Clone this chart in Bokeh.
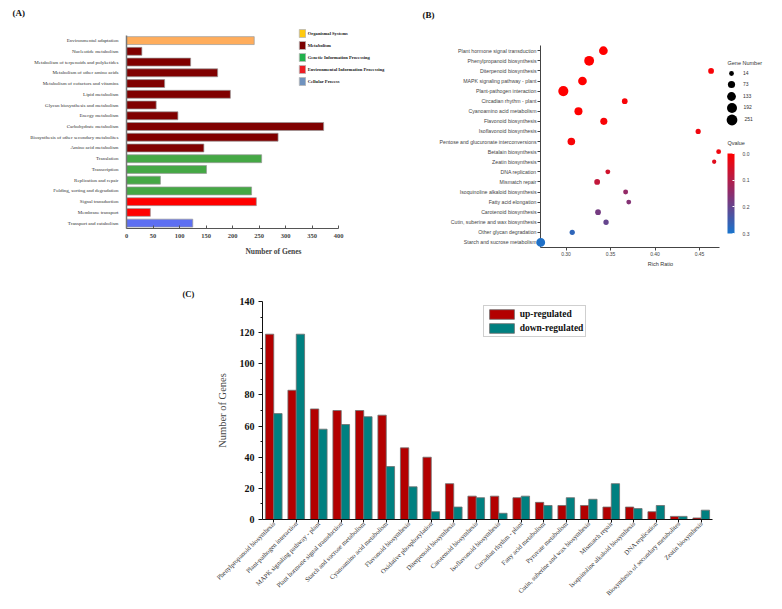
import math
from bokeh.plotting import figure
from bokeh.models import (FactorRange, Range1d, Legend, LegendItem, Label, ColorBar, Title,
                          LinearColorMapper, FixedTicker, CustomJSTickFormatter,
                          PrintfTickFormatter, ColumnDataSource)
from bokeh.transform import dodge, transform
from bokeh.layouts import column, row
from bokeh.embed import file_html
from bokeh.resources import INLINE

SERIF = "Liberation Serif"
SANS = "Liberation Sans"

# ---------------- Panel A data ----------------
a_categories = [
    "Environmental adaptation", "Nucleotide metabolism",
    "Metabolism of terpenoids and polyketides", "Metabolism of other amino acids",
    "Metabolism of cofactors and vitamins", "Lipid metabolism",
    "Glycan biosynthesis and metabolism", "Energy metabolism",
    "Carbohydrate metabolism", "Biosynthesis of other secondary metabolites",
    "Amino acid metabolism", "Translation", "Transcription",
    "Replication and repair", "Folding, sorting and degradation",
    "Signal transduction", "Membrane transport", "Transport and catabolism",
]
a_values = [241, 29, 121, 172, 72, 196, 56, 97, 372, 286, 146, 255, 151, 64, 236, 245, 45, 125]
a_classes = (["Organismal Systems"] + ["Metabolism"] * 10 +
             ["Genetic Information Processing"] * 4 +
             ["Environmental Information Processing"] * 2 + ["Cellular Process"])
a_legend_labels = ["Organismal Systems", "Metabolism", "Genetic Information Processing",
                   "Environmental Information Processing", "Cellular Process"]
a_ticks = [0, 50, 100, 150, 200, 250, 300, 350, 400]

# ---------------- Panel B data ----------------
b_pathways = [
    "Plant hormone signal transduction", "Phenylpropanoid biosynthesis",
    "Diterpenoid biosynthesis", "MAPK signaling pathway - plant",
    "Plant-pathogen interaction", "Circadian rhythm - plant",
    "Cyanoamino acid metabolism", "Flavonoid biosynthesis",
    "Isoflavonoid biosynthesis", "Pentose and glucuronate interconversions",
    "Betalain biosynthesis", "Zeatin biosynthesis", "DNA replication",
    "Mismatch repair", "Isoquinoline alkaloid biosynthesis", "Fatty acid elongation",
    "Carotenoid biosynthesis", "Cutin, suberine and wax biosynthesis",
    "Other glycan degradation", "Starch and sucrose metabolism",
]
b_rich_ratio = [0.342, 0.326, 0.463, 0.3185, 0.297, 0.366, 0.314, 0.3425, 0.4485, 0.306,
                0.4715, 0.4665, 0.347, 0.335, 0.367, 0.3705, 0.336, 0.345, 0.307, 0.2716]
b_gene_number = [131, 187, 31, 129, 202, 29, 101, 67, 19, 85, 14, 7, 14, 31, 15, 14, 29, 22, 20, 136]
b_qvalue = [0.0, 0.0, 0.01, 0.0, 0.0, 0.01, 0.0, 0.01, 0.02, 0.01, 0.02, 0.04, 0.06, 0.08,
            0.14, 0.16, 0.18, 0.20, 0.27, 0.29]
b_size_legend = [14, 73, 133, 192, 251]
b_ticks = [0.30, 0.35, 0.40, 0.45]
b_q_ticks = [0.0, 0.1, 0.2, 0.3]

# ---------------- Panel C data ----------------
c_pathways = [
    "Phenylpropanoid biosynthesis", "Plant-pathogen interaction",
    "MAPK signaling pathway - plant", "Plant hormone signal transduction",
    "Starch and sucrose metabolism", "Cyanoamino acid metabolism",
    "Flavonoid biosynthesis", "Oxidative phosphorylation", "Diterpenoid biosynthesis",
    "Carotenoid biosynthesis", "Isoflavonoid biosynthesis", "Circadian rhythm - plant",
    "Fatty acid metabolism", "Pyruvate metabolism", "Cutin, suberine and wax biosynthesis",
    "Mismatch repair", "Isoquinoline alkaloid biosynthesis", "DNA replication",
    "Biosynthesis of secondary metabolites", "Zeatin biosynthesis",
]
c_up = [119, 83, 71, 70, 70, 67, 46, 40, 23, 15, 15, 14, 11, 9, 9, 8, 8, 5, 2, 1]
c_down = [68, 119, 58, 61, 66, 34, 21, 5, 8, 14, 4, 15, 9, 14, 13, 23, 7, 9, 2, 6]
c_ticks = [0, 20, 40, 60, 80, 100, 120, 140]

# ---------------- styles ----------------
a_bar_colors = {
    "Organismal Systems": "#FFAD5C",
    "Metabolism": "#800000",
    "Genetic Information Processing": "#45A845",
    "Environmental Information Processing": "#FF0000",
    "Cellular Process": "#5D6FF2",
}
a_legend_colors = {
    "Organismal Systems": "#FFC90E",
    "Metabolism": "#7A0000",
    "Genetic Information Processing": "#22B14C",
    "Environmental Information Processing": "#ED1C24",
    "Cellular Process": "#7092BE",
}


def make_palette(stops, n=256):
    out = []
    for i in range(n):
        t = i / (n - 1)
        seg = min(int(t * (len(stops) - 1)), len(stops) - 2)
        f = t * (len(stops) - 1) - seg
        c0, c1 = stops[seg], stops[seg + 1]
        rgb = [round(c0[k] + (c1[k] - c0[k]) * f) for k in range(3)]
        out.append("#%02x%02x%02x" % tuple(rgb))
    return out


red_to_blue = make_palette([(255, 0, 0), (140, 45, 110), (24, 116, 205)])


def style_common(p):
    p.xgrid.visible = False
    p.ygrid.visible = False
    p.outline_line_color = None
    p.background_fill_color = "white"
    p.border_fill_color = "white"
    try:
        p.frame_align = False
    except Exception:
        pass


def panel_title(text, offset, standoff, size):
    return Title(text=text, align="left", offset=offset, standoff=standoff,
                 vertical_align="top", text_font=SERIF, text_font_style="bold",
                 text_font_size=size, text_color="#111111")


# ================= Panel A =================
# canvas x 0..420; frame: x 126..420 (axis 0..400 covers 126..338), y 24..228
A_axis_px = 212.0
A_frame_px = 294.0
pA = figure(width=420, height=270, title=None,
            y_range=FactorRange(factors=a_categories[::-1] + [" "]),
            x_range=Range1d(0, a_ticks[-1] * A_frame_px / A_axis_px),
            output_backend="svg", toolbar_location=None,
            min_border_left=126, min_border_right=0, min_border_top=24, min_border_bottom=42)
style_common(pA)
srcA = ColumnDataSource(dict(cat=a_categories, val=a_values,
                             color=[a_bar_colors[c] for c in a_classes]))
pA.hbar(y="cat", left=0, right="val", height=0.74, fill_color="color",
        line_color="#9a9a9a", line_width=0.7, source=srcA)

itemsA = []
for lab in a_legend_labels:
    r = pA.hbar(y="cat", left=0, right="val", height=0.7, source=srcA,
                fill_color=a_legend_colors[lab], line_color="#b8b8b8", line_width=0.8,
                visible=False)
    itemsA.append(LegendItem(label=lab, renderers=[r]))
legA = Legend(items=itemsA, location=(171.7, 142), glyph_width=8, glyph_height=10,
              label_height=10, spacing=2, label_standoff=2, padding=0, margin=0,
              border_line_color=None, background_fill_alpha=0, inactive_fill_alpha=0,
              label_text_font=SERIF, label_text_font_style="bold",
              label_text_font_size="4.6px", label_text_color="#222222")
pA.add_layout(legA)

pA.xaxis.ticker = FixedTicker(ticks=a_ticks)
pA.xaxis.bounds = (a_ticks[0], a_ticks[-1])
pA.xaxis.axis_label = "Number of Genes"
pA.xaxis.axis_label_text_font = SERIF
pA.xaxis.axis_label_text_font_style = "bold"
pA.xaxis.axis_label_text_font_size = "7.5px"
pA.xaxis.axis_label_standoff = 6
pA.xaxis.major_label_text_font = SERIF
pA.xaxis.major_label_text_font_style = "bold"
pA.xaxis.major_label_text_font_size = "6.5px"
pA.xaxis.major_label_standoff = 5
pA.xaxis.major_tick_in = 3
pA.xaxis.major_tick_out = 0
pA.xaxis.minor_tick_line_color = None
pA.xaxis.axis_line_color = "#555555"
pA.xaxis.axis_line_width = 1.2
pA.xaxis.major_tick_line_color = "#555555"

pA.yaxis.bounds = (0, len(a_categories))
pA.yaxis.major_tick_line_color = None
pA.yaxis.minor_tick_line_color = None
pA.yaxis.axis_line_color = "#777777"
pA.yaxis.axis_line_width = 1.5
pA.yaxis.major_label_text_font = SERIF
pA.yaxis.major_label_text_font_size = "5px"
pA.yaxis.major_label_text_color = "#333333"
pA.yaxis.major_label_standoff = 2

pA.add_layout(panel_title("(A)", -114, 9, "9px"), "above")

# ================= Panel B =================
# canvas x 420..780; frame: x 540..780 (axis 540..718), y 25..247
B_px_per_unit = 890.0
B_x0 = 0.30 - 25.5 / B_px_per_unit
B_axis_end = 0.30 + 153.2 / B_px_per_unit
B_x1 = B_x0 + 240 / B_px_per_unit
pB = figure(width=360, height=270, title=None,
            y_range=FactorRange(factors=b_pathways[::-1] + [" ", "  "]),
            x_range=Range1d(B_x0, B_x1),
            output_backend="svg", toolbar_location=None,
            min_border_left=120, min_border_right=0, min_border_top=25, min_border_bottom=23)
style_common(pB)


def dot_size(n):
    return 3.0 + 0.5 * math.sqrt(n)


q_mapper = LinearColorMapper(palette=red_to_blue, low=0.0, high=0.3)
srcB = ColumnDataSource(dict(cat=b_pathways, ratio=b_rich_ratio, q=b_qvalue,
                             size=[dot_size(n) for n in b_gene_number]))
pB.scatter(x="ratio", y="cat", size="size", fill_color=transform("q", q_mapper),
           line_color=None, source=srcB, level="overlay")

pB.xaxis.ticker = FixedTicker(ticks=b_ticks)
pB.xaxis.bounds = (B_x0, B_axis_end)
pB.xaxis.formatter = PrintfTickFormatter(format="%.2f")
pB.xaxis.axis_label = "Rich Ratio"
pB.xaxis.axis_label_text_font = SANS
pB.xaxis.axis_label_text_font_style = "normal"
pB.xaxis.axis_label_text_font_size = "5.5px"
pB.xaxis.axis_label_text_color = "#333333"
pB.xaxis.axis_label_standoff = 2
pB.yaxis.bounds = (0, len(b_pathways))
for ax in (pB.xaxis, pB.yaxis):
    ax.major_label_text_font = SANS
    ax.major_label_text_font_size = "5.2px"
    ax.major_label_text_color = "#444444"
    ax.axis_line_color = "#444444"
    ax.major_tick_line_color = "#444444"
    ax.minor_tick_line_color = None
    ax.major_tick_in = 0
    ax.major_tick_out = 3
pB.xaxis.major_label_text_font_size = "5px"
pB.xaxis.major_label_standoff = 1
pB.yaxis.major_label_standoff = 1

# size legend (one legend per size so each dot keeps its own size)
pB.add_layout(Label(x=187, y=188, x_units="screen", y_units="screen", text="Gene Number",
                    text_baseline="top", text_font=SANS, text_font_size="5.5px",
                    text_color="#333333"))
legend_rows_y = [73, 84, 95.5, 107, 119]
for n, yc in zip(b_size_legend, legend_rows_y):
    s = dot_size(n)
    W = round(s / 0.4)
    r = pB.scatter(x="ratio", y="cat", size=s, fill_color="black", line_color=None,
                   source=srcB, visible=False)
    lg = Legend(items=[LegendItem(label=str(n), renderers=[r])],
                location=(731 - W / 2 - 540, 247 - (yc + W / 2)),
                glyph_width=W, glyph_height=W, label_height=1,
                label_standoff=int(round(12 - W / 2)), padding=0, margin=0, spacing=0,
                border_line_color=None, background_fill_alpha=0, inactive_fill_alpha=0,
                label_text_font=SANS, label_text_font_size="5px",
                label_text_color="#333333")
    pB.add_layout(lg)

pB.add_layout(Label(x=187, y=108, x_units="screen", y_units="screen", text="Qvalue",
                    text_baseline="top", text_font=SANS, text_font_size="5.5px",
                    text_color="#333333"))
cb_mapper = LinearColorMapper(palette=red_to_blue[::-1], low=-b_q_ticks[-1], high=0.0)
cb_ticks = sorted(round(-t, 2) + 0.0 for t in b_q_ticks)
cbar = ColorBar(color_mapper=cb_mapper, location=(187, 14), width=7, height=80,
                orientation="vertical", title=None,
                ticker=FixedTicker(ticks=cb_ticks),
                formatter=CustomJSTickFormatter(code="return Math.abs(tick).toFixed(1)"),
                major_label_text_font=SANS, major_label_text_font_size="5px",
                major_label_text_color="#444444", label_standoff=8,
                major_tick_line_color="white", major_tick_in=2, minor_tick_line_color=None,
                padding=0, margin=0, background_fill_alpha=0, border_line_color=None)
pB.add_layout(cbar)

pB.add_layout(panel_title("(B)", -118, 8, "9px"), "above")

# ================= Panel C =================
pC = figure(width=780, height=335, title=None,
            x_range=FactorRange(factors=c_pathways), y_range=Range1d(0, 140),
            output_backend="svg", toolbar_location=None,
            min_border_left=262, min_border_right=68, min_border_top=31, min_border_bottom=86)
style_common(pC)
srcC = ColumnDataSource(dict(cat=c_pathways, up=c_up, down=c_down))
r_up = pC.vbar(x=dodge("cat", -0.185, range=pC.x_range), top="up", width=0.37,
               fill_color="#B30000", line_color="#6e6e6e", line_width=0.8, source=srcC)
r_dn = pC.vbar(x=dodge("cat", 0.185, range=pC.x_range), top="down", width=0.37,
               fill_color="#008080", line_color="#6e6e6e", line_width=0.8, source=srcC)

legC = Legend(items=[LegendItem(label="up-regulated", renderers=[r_up]),
                     LegendItem(label="down-regulated", renderers=[r_dn])],
              location=(220.7, 182.3), glyph_width=31, glyph_height=12, label_height=12,
              spacing=2, padding=2, margin=0, label_standoff=3,
              border_line_color="#a0a0a0", border_line_width=1,
              background_fill_color="white", background_fill_alpha=1,
              label_text_font=SERIF, label_text_font_style="bold",
              label_text_font_size="9.5px", label_text_color="#111111")
pC.add_layout(legC)

pC.yaxis.ticker = FixedTicker(ticks=c_ticks, minor_ticks=[t + 10 for t in c_ticks[:-1]])
pC.yaxis.axis_label = "Number of Genes"
pC.yaxis.axis_label_text_font = SERIF
pC.yaxis.axis_label_text_font_style = "normal"
pC.yaxis.axis_label_text_font_size = "10.5px"
pC.yaxis.axis_label_standoff = 9
pC.yaxis.major_label_text_font = SERIF
pC.yaxis.major_label_text_font_style = "bold"
pC.yaxis.major_label_text_font_size = "10px"
pC.yaxis.major_label_standoff = 4
pC.yaxis.major_tick_in = 0
pC.yaxis.major_tick_out = 4
pC.yaxis.minor_tick_in = 0
pC.yaxis.minor_tick_out = 2
for ax in (pC.xaxis, pC.yaxis):
    ax.axis_line_color = "#111111"
    ax.major_tick_line_color = "#111111"
    ax.minor_tick_line_color = "#111111"
    ax.major_label_text_color = "#111111"

pC.xaxis.major_label_orientation = math.pi / 4
pC.xaxis.major_label_text_font = SERIF
pC.xaxis.major_label_text_font_size = "6.6px"
pC.xaxis.major_label_text_color = "#333333"
pC.xaxis.major_label_standoff = 0
pC.xaxis.major_tick_in = 0
pC.xaxis.major_tick_out = 3

pC.add_layout(panel_title("(C)", -80, 1, "8.5px"), "above")

layout = column(row(pA, pB), pC)
open("out.html", "w").write(file_html(layout, INLINE))
